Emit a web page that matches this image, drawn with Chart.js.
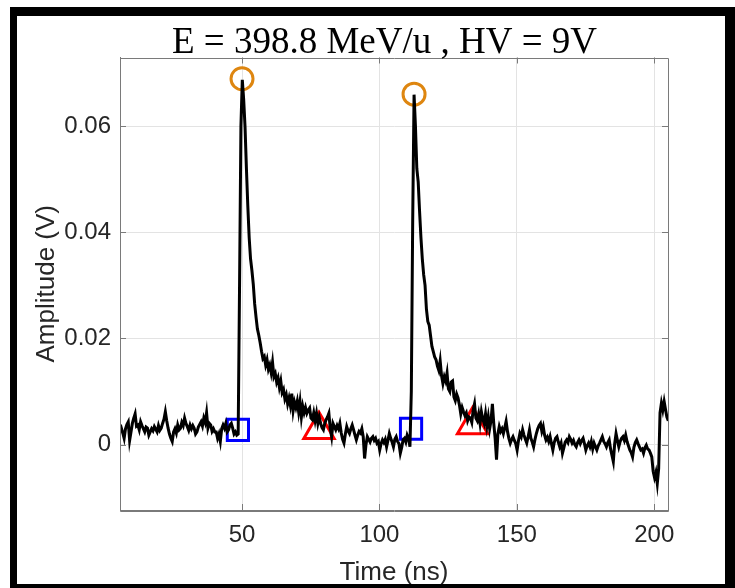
<!DOCTYPE html>
<html>
<head>
<meta charset="utf-8">
<script src="https://cdn.jsdelivr.net/npm/chart.js@4.4.1/dist/chart.umd.min.js"></script>
<style>
html,body{margin:0;padding:0;background:#fff;}
#wrap{position:relative;width:735px;height:588px;overflow:hidden;background:#fff;}
#c{position:absolute;left:0;top:0;}
#frame{position:absolute;left:10px;top:7px;width:708px;height:568px;border-style:solid;border-color:#000;border-width:9px 10px 4px 7px;pointer-events:none;}
</style>
</head>
<body>
<div id="wrap">
<canvas id="c" width="735" height="588"></canvas>
<div id="frame"></div>
</div>
<script>
// ---- data ----
const titleText = 'E = 398.8 MeV/u , HV = 9V';
const xLabel = 'Time (ns)';
const yLabel = 'Amplitude (V)';
const xTicks = [50, 100, 150, 200];
const yTicks = [0, 0.02, 0.04, 0.06];
const xRange = [5.6, 205];
const yRange = [-0.0123, 0.0729];
// oscilloscope trace: first sample time and sample spacing (ns)
const sampleStart = 5.6;
const sampleStep = 0.5;
const amplitude = [
 0.0025,0.0031,0.0022,0.0012,0.0030,0.0038,0.0043,0.0008,0.0024,0.0040,
 0.0050,0.0058,0.0035,0.0037,0.0028,0.0043,0.0036,0.0030,0.0024,0.0033,
 0.0031,0.0018,0.0024,0.0030,0.0026,0.0034,0.0029,0.0024,0.0036,0.0027,
 0.0031,0.0040,0.0048,0.0062,0.0045,0.0031,0.0020,0.0012,0.0006,0.0024,
 0.0030,0.0022,0.0037,0.0028,0.0031,0.0042,0.0036,0.0050,0.0040,0.0034,
 0.0027,0.0037,0.0030,0.0036,0.0031,0.0020,0.0024,0.0033,0.0038,0.0043,
 0.0035,0.0050,0.0042,0.0060,0.0031,0.0040,0.0037,0.0025,0.0030,0.0024,
 0.0024,0.0012,0.0020,0.0006,0.0030,0.0037,0.0031,0.0040,0.0024,0.0028,
 0.0037,0.0040,0.0031,0.0020,0.0024,0.0018,0.0020,0.0300,0.0600,0.0687,
 0.0650,0.0598,0.0520,0.0450,0.0390,0.0350,0.0328,0.0302,0.0265,0.0240,
 0.0218,0.0206,0.0192,0.0176,0.0162,0.0166,0.0150,0.0160,0.0142,0.0150,
 0.0136,0.0155,0.0128,0.0134,0.0118,0.0126,0.0108,0.0120,0.0098,0.0104,
 0.0086,0.0094,0.0077,0.0088,0.0074,0.0096,0.0064,0.0080,0.0070,0.0082,
 0.0062,0.0081,0.0052,0.0072,0.0060,0.0070,0.0059,0.0065,0.0069,0.0050,
 0.0047,0.0060,0.0045,0.0059,0.0040,0.0052,0.0040,0.0032,0.0028,0.0040,
 0.0047,0.0052,0.0059,0.0030,0.0015,0.0040,0.0034,0.0028,0.0036,0.0030,
 0.0040,0.0022,0.0010,0.0003,0.0020,0.0034,0.0026,0.0021,0.0030,0.0037,
 0.0028,0.0018,0.0009,0.0018,0.0025,0.0022,0.0030,0.0015,-0.0026,0.0000,
 0.0015,0.0010,0.0005,0.0012,0.0015,0.0008,0.0012,0.0003,0.0006,-0.0010,
 0.0002,0.0009,0.0004,0.0010,-0.0004,0.0008,0.0021,0.0012,0.0005,-0.0004,
 0.0010,0.0015,0.0006,0.0002,-0.0016,-0.0005,0.0009,0.0012,0.0005,0.0018,
 0.0012,-0.0004,0.0100,0.0420,0.0659,0.0600,0.0520,0.0495,0.0440,0.0390,
 0.0350,0.0320,0.0300,0.0255,0.0232,0.0225,0.0205,0.0185,0.0175,0.0165,
 0.0160,0.0148,0.0140,0.0158,0.0130,0.0115,0.0128,0.0120,0.0135,0.0105,
 0.0100,0.0118,0.0120,0.0090,0.0083,0.0095,0.0088,0.0075,0.0058,0.0070,
 0.0062,0.0055,0.0060,0.0045,0.0052,0.0050,0.0042,0.0065,0.0077,0.0050,
 0.0045,0.0058,0.0040,0.0062,0.0048,0.0040,0.0058,0.0035,0.0052,0.0030,
 0.0045,0.0077,0.0040,0.0012,-0.0028,0.0020,0.0034,0.0025,0.0030,0.0021,
 0.0032,0.0044,0.0025,0.0012,0.0003,0.0010,0.0015,0.0008,0.0002,-0.0010,
 0.0008,0.0021,0.0015,0.0028,0.0018,0.0010,0.0003,0.0015,0.0028,0.0012,
 0.0005,-0.0004,0.0010,0.0021,0.0030,0.0036,0.0040,0.0025,0.0034,0.0018,
 0.0009,0.0014,0.0006,0.0015,0.0002,-0.0010,0.0004,0.0012,0.0015,0.0005,
 -0.0004,0.0003,-0.0016,-0.0006,0.0005,0.0009,0.0004,0.0015,0.0010,0.0003,
 0.0008,0.0000,-0.0004,0.0004,0.0009,0.0002,0.0008,0.0012,0.0002,-0.0010,
 -0.0002,0.0003,-0.0004,0.0006,-0.0008,0.0003,-0.0004,-0.0010,-0.0002,0.0003,
 0.0009,0.0015,0.0006,0.0002,-0.0004,0.0004,0.0009,-0.0008,-0.0020,-0.0032,
 0.0002,0.0021,0.0008,-0.0004,0.0006,0.0012,0.0015,0.0008,0.0018,0.0006,
 -0.0002,-0.0010,-0.0015,-0.0023,-0.0005,0.0004,0.0009,0.0002,-0.0004,-0.0010,
 -0.0008,-0.0016,-0.0006,-0.0001,-0.0008,-0.0010,-0.0016,-0.0023,-0.0050,-0.0062,
 -0.0052,-0.0073,-0.0045,0.0060,0.0078,0.0065,0.0081,0.0066,0.0052,0.0045
];
// markers
const peakTime = [50.0, 112.6];
const peakAmp = [0.0689, 0.0660];
const startTime = [48.5, 111.5];
const startAmp = [0.0028, 0.0030];
const endTime = [78.0, 133.9];
const endAmp = [0.0028, 0.0037];

// ---- build ----
const trace = amplitude.map((v, i) => ({x: sampleStart + i * sampleStep, y: v}));
const pts = (xs, ys) => xs.map((x, i) => ({x: x, y: ys[i]}));

const AX = '#7a7a7a';
const TXT = '#262626';

const boxPlugin = {
  id: 'boxPlugin',
  afterDatasetsDraw(chart) {
    const {ctx, chartArea: a, scales} = chart;
    ctx.save();
    ctx.strokeStyle = AX;
    ctx.lineWidth = 1;
    ctx.beginPath();
    ctx.rect(Math.round(a.left) + 0.5, Math.round(a.top) + 0.5, Math.round(a.right - a.left), Math.round(a.bottom - a.top));
    const L = 6;
    scales.x.ticks.forEach(t => {
      const px = Math.round(scales.x.getPixelForValue(t.value)) + 0.5;
      ctx.moveTo(px, a.bottom); ctx.lineTo(px, a.bottom - L);
      ctx.moveTo(px, a.top); ctx.lineTo(px, a.top + L);
    });
    scales.y.ticks.forEach(t => {
      const py = Math.round(scales.y.getPixelForValue(t.value)) + 0.5;
      ctx.moveTo(a.left, py); ctx.lineTo(a.left + L, py);
      ctx.moveTo(a.right, py); ctx.lineTo(a.right - L, py);
    });
    ctx.stroke();
    ctx.restore();
  },
  afterDraw(chart) {
    const {ctx} = chart;
    ctx.save();
    ctx.fillStyle = '#000';
    ctx.font = '37px "Liberation Serif", "Times New Roman", serif';
    ctx.textAlign = 'center';
    ctx.textBaseline = 'alphabetic';
    ctx.fillText(titleText, 384.5, 53);
    ctx.restore();
  }
};

new Chart(document.getElementById('c'), {
  type: 'scatter',
  data: {
    datasets: [
      {label: 'trace', data: trace, showLine: true, borderColor: '#000', borderWidth: 3,
       pointRadius: 0, tension: 0, fill: false, order: 0},
      {label: 'peak', data: pts(peakTime, peakAmp), pointStyle: 'circle', pointRadius: 11,
       borderColor: '#de8610', backgroundColor: 'rgba(0,0,0,0)', borderWidth: 3, order: 1},
      {label: 'start', data: pts(startTime, startAmp), pointStyle: 'rect', pointRadius: 15,
       borderColor: '#0000ff', backgroundColor: 'rgba(0,0,0,0)', borderWidth: 3, order: 1},
      {label: 'end', data: pts(endTime, endAmp), pointStyle: 'triangle', pointRadius: 17.5,
       borderColor: '#ff0000', backgroundColor: 'rgba(0,0,0,0)', borderWidth: 3, order: 1}
    ]
  },
  options: {
    responsive: false,
    animation: false,
    events: [],
    layout: {padding: {top: 57.5, right: 67, bottom: 0, left: 0}},
    plugins: {legend: {display: false}, tooltip: {enabled: false}, title: {display: false}},
    scales: {
      x: {
        type: 'linear', min: xRange[0], max: xRange[1],
        afterBuildTicks: s => { s.ticks = xTicks.map(v => ({value: v})); },
        afterFit: s => { s.height = 78; },
        grid: {color: '#e3e3e3', lineWidth: 1, drawTicks: false},
        border: {color: AX, width: 1},
        ticks: {font: {family: 'Liberation Sans', size: 24}, color: TXT, padding: 11, maxRotation: 0},
        title: {display: true, text: xLabel, color: TXT, font: {family: 'Liberation Sans', size: 26},
                padding: {top: 4, bottom: 0}}
      },
      y: {
        type: 'linear', min: yRange[0], max: yRange[1],
        afterBuildTicks: s => { s.ticks = yTicks.map(v => ({value: v})); },
        afterFit: s => { s.width = 120; },
        grid: {color: '#e3e3e3', lineWidth: 1, drawTicks: false},
        border: {color: AX, width: 1},
        ticks: {font: {family: 'Liberation Sans', size: 24}, color: TXT, padding: 9},
        title: {display: true, text: yLabel, color: TXT, font: {family: 'Liberation Sans', size: 26},
                padding: {top: 31, bottom: 0}}
      }
    }
  },
  plugins: [boxPlugin]
});
</script>
</body>
</html>
